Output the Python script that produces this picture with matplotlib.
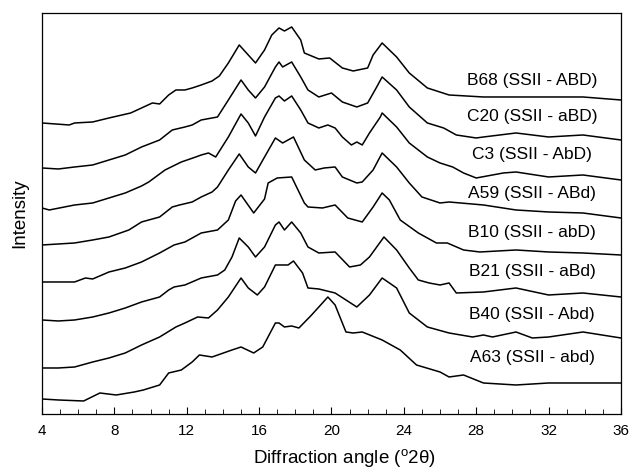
import matplotlib
matplotlib.use("Agg")
import matplotlib.pyplot as plt
from matplotlib.ticker import MultipleLocator

plt.rcParams['font.family'] = ['Liberation Sans', 'DejaVu Sans']
plt.rcParams['mathtext.fontset'] = 'custom'
plt.rcParams['mathtext.rm'] = 'Liberation Sans'

# diffraction angle (deg 2theta) and stacked intensity (offset already included)
b68_x = [4.0, 5.5, 5.8, 6.8, 7.7, 8.9, 9.5, 10.1, 10.5, 11.0, 11.4, 11.9, 12.3, 12.8, 13.4, 13.8, 14.3,
         14.9, 15.4, 15.8, 16.3, 16.7, 17.1, 17.4, 17.8, 18.3, 18.5, 19.3, 19.9, 20.6, 21.2, 22.0, 22.3,
         22.8, 23.6, 24.3, 25.3, 26.5, 28.4, 30.2, 32.0, 33.9, 36.0]
b68_y = [291, 289, 291, 292, 296, 301, 306, 311, 310, 319, 324, 324, 326, 329, 333, 338, 351,
         369, 359, 351, 364, 379, 386, 383, 387, 374, 361, 355, 356, 346, 343, 346, 359,
         371, 357, 341, 326, 319, 317, 317, 317, 317, 314]

c20_x = [4.0, 4.9, 5.8, 6.8, 7.7, 8.6, 9.5, 10.5, 11.2, 11.9, 12.3, 12.8, 13.7, 14.3, 15.0, 15.4, 15.8,
         16.3, 16.9, 17.1, 17.3, 17.8, 18.3, 18.7, 19.3, 20.0, 20.6, 21.4, 22.0, 22.5, 22.8, 23.6, 24.3,
         25.3, 26.2, 26.9, 28.0, 28.4, 30.2, 32.0, 33.9, 36.0]
c20_y = [246, 245, 247, 249, 254, 259, 267, 274, 284, 287, 289, 294, 297, 314, 334, 324, 316,
         327, 347, 352, 347, 352, 337, 324, 317, 321, 312, 307, 311, 327, 337, 324, 307,
         291, 286, 279, 276, 277, 281, 277, 279, 274]

c3_x = [4.0, 4.4, 5.8, 6.8, 7.7, 8.6, 9.5, 9.9, 10.8, 11.7, 12.5, 12.8, 13.2, 13.6, 14.3, 15.0, 15.4,
        15.8, 16.3, 16.9, 17.1, 17.4, 17.8, 18.3, 18.7, 19.3, 19.8, 20.2, 20.6, 21.1, 21.4, 21.7, 22.1,
        22.7, 22.8, 23.6, 24.3, 25.3, 26.0, 26.7, 27.3, 28.0, 29.5, 30.2, 32.0, 33.9, 36.0]
c3_y = [206, 204, 209, 211, 216, 221, 228, 232, 244, 252, 257, 259, 261, 257, 277, 300, 291,
        278, 297, 316, 318, 313, 318, 304, 291, 286, 289, 286, 277, 269, 272, 269, 281,
        297, 301, 287, 271, 257, 251, 247, 241, 236, 241, 242, 237, 239, 234]

a59_x = [4.0, 5.8, 6.8, 7.7, 8.8, 9.5, 10.5, 11.2, 11.6, 12.3, 12.8, 13.4, 13.7, 14.3, 14.9, 15.4, 15.8,
         16.3, 16.9, 17.3, 17.9, 18.5, 19.1, 19.6, 20.2, 20.6, 21.4, 21.7, 22.3, 22.8, 23.6, 24.3, 25.0,
         26.0, 26.5, 28.4, 30.2, 32.0, 33.9, 36.0]
a59_y = [169, 171, 174, 177, 184, 192, 197, 207, 209, 212, 217, 222, 227, 244, 260, 247, 241,
         257, 276, 271, 277, 254, 244, 246, 247, 237, 231, 232, 244, 261, 247, 231, 217,
         211, 212, 209, 204, 202, 201, 196]

b10_x = [4.0, 4.9, 5.8, 6.4, 6.8, 7.7, 8.6, 9.5, 10.5, 11.3, 11.9, 12.8, 13.7, 14.3, 14.7, 15.0, 15.7,
         16.3, 16.5, 17.0, 17.8, 18.5, 18.7, 19.5, 20.2, 20.9, 21.7, 22.3, 22.8, 23.2, 23.8, 24.8, 25.8,
         26.4, 27.3, 28.2, 30.2, 32.0, 33.9, 36.0]
b10_y = [132, 132, 132, 136, 135, 142, 146, 152, 161, 169, 172, 181, 184, 194, 213, 219, 201,
         215, 231, 236, 237, 211, 207, 206, 209, 196, 192, 207, 221, 214, 194, 181, 171,
         171, 164, 162, 164, 162, 161, 159]

b21_x = [4.0, 4.9, 5.8, 6.8, 7.7, 8.6, 9.5, 10.5, 11.0, 11.3, 11.9, 12.8, 13.7, 14.1, 14.5, 14.9, 15.4,
         15.8, 16.3, 16.9, 17.1, 17.4, 17.8, 18.3, 18.7, 19.3, 20.2, 21.0, 21.6, 22.1, 22.9, 23.6, 24.3,
         24.8, 25.4, 26.0, 26.5, 26.9, 28.4, 30.2, 32.0, 33.9, 36.0]
b21_y = [94, 93, 94, 97, 101, 106, 112, 117, 124, 127, 129, 136, 139, 144, 157, 176, 167,
         157, 167, 189, 192, 184, 192, 181, 167, 161, 162, 147, 149, 157, 177, 164, 146,
         134, 131, 129, 131, 121, 122, 126, 119, 121, 117]

b40_x = [4.0, 4.9, 5.8, 6.8, 7.7, 8.6, 9.5, 10.5, 11.4, 11.9, 12.6, 13.2, 13.7, 14.3, 15.0, 15.4, 15.9,
         16.3, 16.9, 17.3, 17.6, 17.9, 18.4, 18.7, 19.3, 20.2, 21.4, 22.1, 22.8, 23.6, 24.3, 25.3, 26.5,
         27.8, 28.4, 28.9, 30.2, 31.1, 32.0, 33.9, 36.0]
b40_y = [46, 46, 47, 52, 56, 61, 69, 77, 87, 91, 97, 96, 104, 117, 136, 126, 119,
         127, 149, 149, 149, 153, 141, 126, 125, 121, 107, 119, 136, 126, 101, 87, 81,
         77, 79, 77, 82, 76, 77, 82, 76]

a63_x = [4.0, 4.9, 6.3, 7.2, 8.1, 9.1, 9.6, 10.5, 11.0, 11.7, 12.3, 12.7, 13.4, 14.5, 15.0, 15.7, 16.2,
         16.9, 17.1, 17.4, 17.8, 18.2, 18.9, 19.5, 19.8, 20.2, 20.8, 21.2, 21.7, 22.8, 23.8, 24.7, 26.0,
         26.5, 27.3, 28.4, 30.2, 32.0, 33.9, 36.0]
a63_y = [15, 14, 13, 21, 19, 22, 24, 29, 41, 44, 52, 59, 57, 64, 67, 61, 67,
         91, 91, 87, 88, 86, 99, 111, 117, 109, 82, 81, 82, 74, 64, 49, 42,
         37, 39, 31, 29, 31, 31, 31]

labels = ['B68 (SSII - ABD)', 'C20 (SSII - aBD)', 'C3 (SSII - AbD)', 'A59 (SSII - ABd)',
          'B10 (SSII - abD)', 'B21 (SSII - aBd)', 'B40 (SSII - Abd)', 'A63 (SSII - abd)']
label_y = [333, 297, 259, 220, 181, 142, 99, 56]
label_x = 31.1

series = [(b68_x, b68_y), (c20_x, c20_y), (c3_x, c3_y), (a59_x, a59_y),
          (b10_x, b10_y), (b21_x, b21_y), (b40_x, b40_y), (a63_x, a63_y)]

fig = plt.figure(figsize=(6.32, 4.72), dpi=100)
ax = fig.add_axes([0.0665, 0.1229, 0.916, 0.8496])

for (xs, ys), name, ly in zip(series, labels, label_y):
    ax.plot(xs, ys, color='black', lw=1.1)
    ax.text(label_x, ly, name, ha='center', va='center', fontsize=12.5)

ax.set_xlim(4, 36)
ax.set_ylim(0, 401)
ax.xaxis.set_major_locator(MultipleLocator(4))
ax.xaxis.set_minor_locator(MultipleLocator(1))
ax.tick_params(axis='x', which='both', direction='in', top=False, labelsize=11, pad=7)
ax.tick_params(axis='x', which='major', length=5)
ax.tick_params(axis='x', which='minor', length=3.5)
ax.set_yticks([])
for s in ax.spines.values():
    s.set_linewidth(0.9)

ax.set_xlabel('Diffraction angle ($^{\\mathrm{o}}$2θ)', fontsize=13.5)
ax.xaxis.set_label_coords(0.522, -0.083)
ax.set_ylabel('Intensity', fontsize=13.5, labelpad=10)

fig.savefig('out.png', dpi=100)
